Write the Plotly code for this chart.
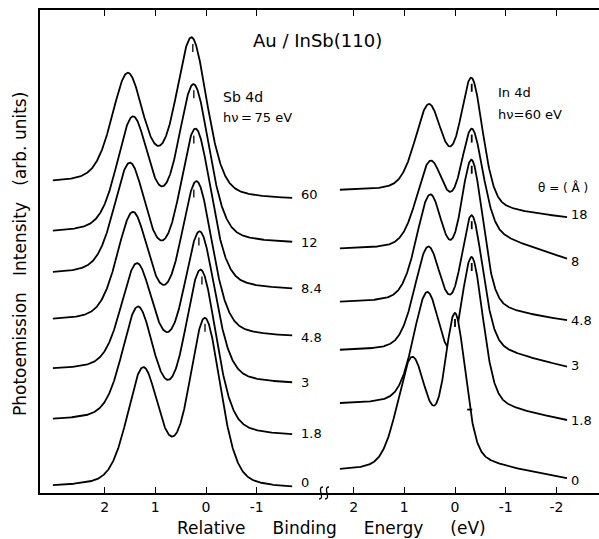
import numpy as np
import plotly.graph_objects as go

# ---------------- data ----------------
# Intensities are in arbitrary units (height above the bottom axis).
# Left panel: Sb 4d, hv = 75 eV ; curves listed top -> bottom
sb_labels = ["60", "12", "8.4", "4.8", "3", "1.8", "0"]
sb_E1 = [1.54, 1.44, 1.50, 1.44, 1.36, 1.34, 1.24]     # Sb 4d3/2 peak (eV)
sb_E2 = [0.28, 0.24, 0.20, 0.18, 0.12, 0.10, 0.02]     # Sb 4d5/2 peak (eV)
sb_Edip = [0.97, 0.85, 0.87, 0.85, 0.67, 0.67, 0.65]
sb_start = [314, 265, 220, 172, 122, 70, 10]           # at E = 3.02 eV
sb_p1 = [421, 378, 330, 280, 229, 185, 127]
sb_dip = [344, 300, 255, 214, 172, 127, 51]
sb_p2 = [456, 410, 364, 311, 260, 221, 176]
sb_end = [296, 253, 204, 156, 109, 56, 8]              # at E = -1.70 eV
sb_hw1 = [0.37, 0.37, 0.37, 0.37, 0.37, 0.37, 0.37]
sb_hw2 = [0.36, 0.36, 0.36, 0.36, 0.36, 0.36, 0.36]
sb_mark = [0.26, 0.24, 0.24, 0.24, 0.14, 0.08, 0.02]
sb_Erange = (3.02, -1.70)

# Right panel: In 4d, hv = 60 eV ; curves listed top -> bottom
in_labels = ["18", "8", "4.8", "3", "1.8", "0"]
in_E1 = [0.51, 0.49, 0.49, 0.53, 0.55, 0.85]
in_E2 = [-0.33, -0.33, -0.33, -0.33, -0.33, 0.0]
in_Edip = [0.14, 0.12, 0.10, 0.10, None, 0.43]
in_start = [305, 248, 191, 140, 90, 24]                # at E = 2.27 eV
in_p1 = [392, 338, 298, 243, 201, 136]
in_dip = [340, 287, 255, 210, None, 88]
in_p2 = [416, 366, 333, 276, 236, 180]
in_Esh = [-0.89, -0.83, -0.89, -0.95, -0.95, -0.69]
in_sh = [296, 273, 193, 143, 93, 33]
in_end = [275, 233, 173, 128, 73, 15]                  # at E = -2.21 eV
in_hw1 = [0.32, 0.32, 0.32, 0.32, 0.32, 0.34]
in_hw2 = [0.26, 0.26, 0.26, 0.26, 0.26, 0.24]
in_mark = [-0.33, -0.33, -0.33, -0.33, -0.33, 0.0]
in_dash = -0.30                                         # horizontal mark on bottom curve
in_Erange = (2.27, -2.21)

sb_tickvals = [2, 1, 0, -1]
sb_ticktext = ["2", "1", "0", "-1"]
in_tickvals = [2, 1, 0, -1, -2]
in_ticktext = ["2", "1", "0", "-1", "-2"]

# ---------------- layout geometry ----------------
W, H = 599, 539
ML, MR, MT, MB = 40, 0, 10, 46
PW, PH = W - ML - MR, H - MT - MB
PX_PER_EV = 50.7
X0_L, X0_R, BRK = 206, 455, 325
xl_range = [(X0_L - ML) / PX_PER_EV, -(BRK - X0_L) / PX_PER_EV]
xr_range = [(X0_R - BRK) / PX_PER_EV, -(W - MR - X0_R) / PX_PER_EV]
dom_split = (BRK - ML) / PW


def px(xp):
    return (xp - ML) / PW


def py(yp):
    return (H - MB - yp) / PH


def pv(E, E0, hw, eta):
    x = (E - E0) / hw
    return eta / (1 + x * x) + (1 - eta) * np.exp(-np.log(2) * x * x)


def spectrum(pts, E1, E2, hw1, hw2, eta, use_slope):
    Ef = np.linspace(-5, 6, 3000)
    prof = 0.67 * pv(Ef, E1, hw1, eta) + pv(Ef, E2, hw2, eta)
    S = np.cumsum(prof)
    S /= S[-1]

    def basis(E):
        E = np.asarray(E, float)
        s = np.interp(E, Ef, S)
        cols = [pv(E, E1, hw1, eta), pv(E, E2, hw2, eta), s, 1 - s]
        if use_slope:
            cols.append(np.minimum(E - E2, 0))
        return np.column_stack(cols)

    Ek = np.array([p[0] for p in pts], float)
    hk = np.array([p[1] for p in pts], float)
    coef, *_ = np.linalg.lstsq(basis(Ek), hk, rcond=None)
    return lambda E: basis(E) @ coef


fig = go.Figure()
LINE = dict(color="black", width=1.8)

# left panel curves (back to front, white fill hides lines behind)
sb_funcs = []
Eg = np.linspace(sb_Erange[0], sb_Erange[1], 700)
for i in range(len(sb_labels)):
    pts = [(sb_Erange[0], sb_start[i]), (sb_E1[i], sb_p1[i]), (sb_Edip[i], sb_dip[i]),
           (sb_E2[i], sb_p2[i]), (sb_Erange[1], sb_end[i])]
    f = spectrum(pts, sb_E1[i], sb_E2[i], sb_hw1[i], sb_hw2[i], 0.35, False)
    sb_funcs.append(f)
    fig.add_trace(go.Scatter(x=Eg, y=f(Eg), mode="lines", line=LINE, fill="tozeroy",
                             fillcolor="white", xaxis="x", yaxis="y", hoverinfo="skip"))

# right panel curves
in_funcs = []
Eg2 = np.linspace(in_Erange[0], in_Erange[1], 700)
for i in range(len(in_labels)):
    pts = [(in_Erange[0], in_start[i]), (in_E1[i], in_p1[i]), (in_E2[i], in_p2[i]),
           (in_Esh[i], in_sh[i]), (in_Erange[1], in_end[i])]
    if in_dip[i] is not None:
        pts.append((in_Edip[i], in_dip[i]))
    f = spectrum(pts, in_E1[i], in_E2[i], in_hw1[i], in_hw2[i], 0.3, True)
    in_funcs.append(f)
    fig.add_trace(go.Scatter(x=Eg2, y=f(Eg2), mode="lines", line=LINE, fill="tozeroy",
                             fillcolor="white", xaxis="x2", yaxis="y", hoverinfo="skip"))

# peak marks
mx, my = [], []
for i, e in enumerate(sb_mark):
    v = float(sb_funcs[i](np.array([e]))[0])
    mx += [e, e, None]
    my += [v - 14, v - 6, None]
fig.add_trace(go.Scatter(x=mx, y=my, mode="lines", line=dict(color="black", width=1.3),
                         xaxis="x", yaxis="y", hoverinfo="skip"))
mx, my = [], []
for i, e in enumerate(in_mark):
    v = float(in_funcs[i](np.array([e]))[0])
    mx += [e, e, None]
    my += [v - 14, v - 6, None]
vd = float(in_funcs[-1](np.array([in_dash]))[0])
mx += [in_dash + 0.06, in_dash - 0.04, None]
my += [vd, vd, None]
fig.add_trace(go.Scatter(x=mx, y=my, mode="lines", line=dict(color="black", width=1.8),
                         xaxis="x2", yaxis="y", hoverinfo="skip"))

FONT = "DejaVu Sans, Verdana, sans-serif"
NB = "\u00a0"
ann = []
lab_y_l = [194, 242, 288, 337, 383, 433, 482]
for t, yy in zip(sb_labels, lab_y_l):
    ann.append(dict(text=t, x=px(299), y=py(yy), xanchor="left", font=dict(size=13)))
lab_y_r = [215, 261, 320, 365, 420, 480]
for t, yy in zip(in_labels, lab_y_r):
    ann.append(dict(text=t, x=px(569), y=py(yy), xanchor="left", font=dict(size=13)))

ann += [
    dict(text="Au / InSb(110)", x=px(317), y=py(40), font=dict(size=18)),
    dict(text="Sb 4d", x=px(221), y=py(97), xanchor="left", font=dict(size=14)),
    dict(text="h\u03bd\u2009=\u200975 eV", x=px(221), y=py(117), xanchor="left", font=dict(size=13)),
    dict(text="In 4d", x=px(496), y=py(93), xanchor="left", font=dict(size=13)),
    dict(text="h\u03bd=60 eV", x=px(496), y=py(115), xanchor="left", font=dict(size=13)),
    dict(text="\u03b8 = ( \u00c5 )", x=px(536), y=py(188), xanchor="left", font=dict(size=12)),
    dict(text=(NB * 5).join(["Relative", "Binding", "Energy", "(eV)"]), x=px(331), y=py(528),
         font=dict(size=17)),
    dict(text=(NB * 3).join(["Photoemission", "Intensity", "(arb. units)"]), x=px(20), y=py(254),
         textangle=-90, font=dict(size=17)),
]
for a in ann:
    a.setdefault("xref", "paper")
    a.setdefault("yref", "paper")
    a.setdefault("showarrow", False)
    a.setdefault("yanchor", "middle")
    a.setdefault("xanchor", "center")

# axis break squiggles
shapes = []
for xb in (321, 327):
    x0, x1 = px(xb - 2), px(xb + 2)
    y0, y1 = py(499), py(487)
    shapes.append(dict(type="path", xref="paper", yref="paper",
                       path=f"M {x0},{y0} C {x0+0.012},{y0} {x1-0.012},{y1} {x1},{y1}",
                       line=dict(color="black", width=1.3)))

axis_common = dict(showgrid=False, zeroline=False, showline=True, linecolor="black",
                   linewidth=1.8, ticks="inside", ticklen=6, tickwidth=1.3,
                   tickcolor="black", mirror="ticks", tickfont=dict(size=14, color="black"))

fig.update_layout(
    width=W, height=H, margin=dict(l=ML, r=MR, t=MT, b=MB),
    paper_bgcolor="white", plot_bgcolor="white", showlegend=False,
    font=dict(family=FONT, color="black"),
    xaxis=dict(domain=[0, dom_split], range=xl_range, tickvals=sb_tickvals,
               ticktext=sb_ticktext, anchor="y", **axis_common),
    xaxis2=dict(domain=[dom_split, 1], range=xr_range, tickvals=in_tickvals,
                ticktext=in_ticktext, anchor="y", **axis_common),
    yaxis=dict(range=[0, PH], showgrid=False, zeroline=False, showline=True,
               linecolor="black", linewidth=1.8, ticks="", showticklabels=False),
    annotations=ann, shapes=shapes,
)

fig.write_html("out.html")
